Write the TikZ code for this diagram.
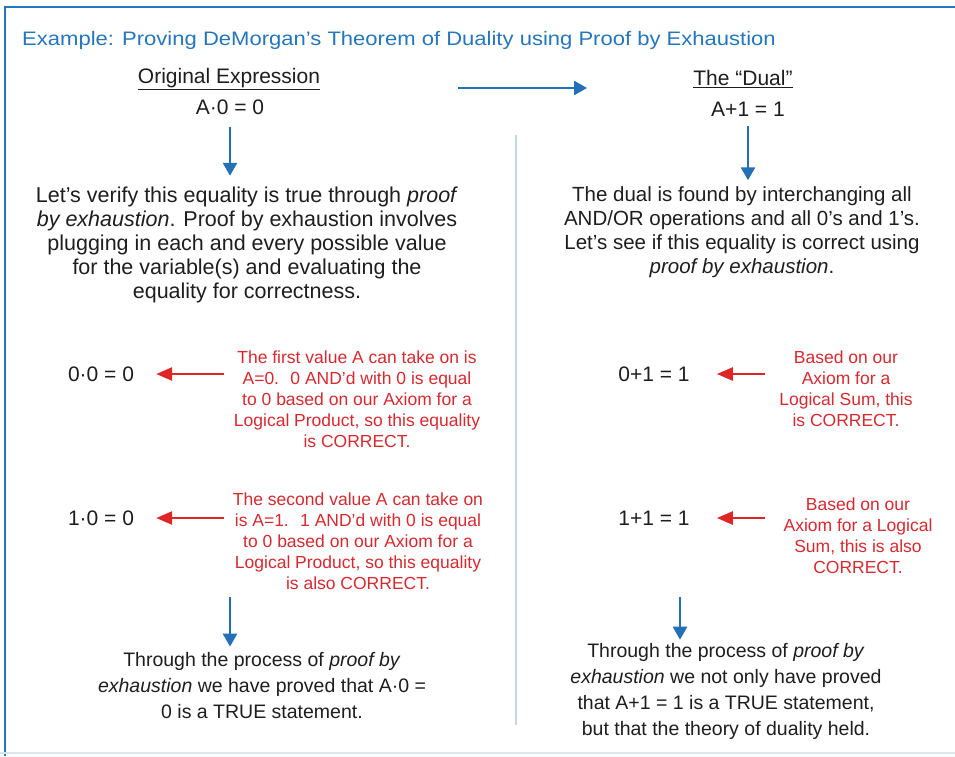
\documentclass[tikz,border=0pt]{standalone}
\usepackage{fontspec}
\setmainfont{Liberation Sans}
\usetikzlibrary{arrows.meta}
\definecolor{tblue}{RGB}{38,118,188}
\definecolor{ablue}{RGB}{36,112,182}
\definecolor{ared}{RGB}{222,38,38}
\definecolor{tred}{RGB}{214,42,48}
\definecolor{divc}{RGB}{200,216,226}
\definecolor{botc}{RGB}{214,230,234}
\definecolor{txt}{RGB}{30,30,30}
\tikzset{
  body/.style={font=\fontsize{21.5}{24}\selectfont, text=txt, align=center, inner sep=0pt},
  bodyr/.style={font=\fontsize{20.5}{24}\selectfont, text=txt, align=center, inner sep=0pt},
  bodyb/.style={font=\fontsize{19.5}{26}\selectfont, text=txt, align=center, inner sep=0pt},
  redtxt/.style={font=\fontsize{17.5}{21}\selectfont, text=tred, align=center, inner sep=0pt},
  eqn/.style={font=\fontsize{21}{24}\selectfont, text=txt, inner sep=0pt},
  barrow/.style={draw=ablue, line width=2.6pt, -{Triangle[length=13pt,width=14pt]}},
  rarrow/.style={draw=ared, line width=2.4pt, -{Triangle[length=16pt,width=13pt]}},
}
\begin{document}
\begin{tikzpicture}[x=1pt,y=-1pt]
\useasboundingbox (0,0) rectangle (955,756);
\fill[white] (0,0) rectangle (955,756);
% frame
\draw[tblue, line width=2.2pt] (5,756) -- (5,7) -- (955,7);
\draw[botc, line width=1.5pt] (0,753) -- (955,753);
% divider
\draw[divc, line width=1.6pt] (516,135) -- (516,725);

% title
\node[anchor=west, text=tblue, font=\fontsize{19.5}{24}\selectfont, inner sep=0pt] (title) at (22,40) {\scalebox{1.13}[1]{Example: Proving DeMorgan’s Theorem of Duality using Proof by Exhaustion}};

% headers
\node[eqn] (orig) at (229,79) {\underline{Original Expression}};
\node[eqn] (a0) at (230,107) {A·0 = 0};
\node[eqn] (dual) at (743,79) {\underline{The “Dual”}};
\node[eqn] (a1) at (748,109) {A+1 = 1};
\coordinate (hs) at (458,88);
\coordinate (he) at (587,88);
\draw[barrow] (hs) -- (he);

% paragraphs
\node[body] (lp) at (247,245) {Let’s verify this equality is true through \textit{proof}\\
\textit{by exhaustion}. Proof by exhaustion involves\\
plugging in each and every possible value\\
for the variable(s) and evaluating the\\
equality for correctness.};
\node[bodyr] (rp) at (742,232) {The dual is found by interchanging all\\
AND/OR operations and all 0’s and 1’s.\\
Let’s see if this equality is correct using\\
\textit{proof by exhaustion}.};
\draw[barrow] ([yshift=-12pt]a0.south) -- ([yshift=11pt]lp.north -| a0.south);
\draw[barrow] ([yshift=-10pt]a1.south) -- ([yshift=6pt]rp.north -| a1.south);

% left cases
\node[eqn] (e00) at (101,374) {0·0 = 0};
\node[redtxt] (r1) at (357,399) {The first value A can take on is\\
A=0.~ 0 AND’d with 0 is equal\\
to 0 based on our Axiom for a\\
Logical Product, so this equality\\
is CORRECT.};
\coordinate (r1s) at (224,374);
\draw[rarrow] (r1s) -- ([xshift=22pt]e00.east);

\node[eqn] (e10) at (101,518) {1·0 = 0};
\node[redtxt] (r2) at (358,541) {The second value A can take on\\
is A=1.~ 1 AND’d with 0 is equal\\
to 0 based on our Axiom for a\\
Logical Product, so this equality\\
is also CORRECT.};
\coordinate (r2s) at (224,518);
\draw[rarrow] (r2s) -- ([xshift=22pt]e10.east);

% right cases
\node[eqn] (e01) at (654,374) {0+1 = 1};
\node[redtxt] (r3) at (846,389) {Based on our\\
Axiom for a\\
Logical Sum, this\\
is CORRECT.};
\coordinate (r3s) at (765,374);
\draw[rarrow] (r3s) -- ([xshift=27pt]e01.east);

\node[eqn] (e11) at (654,518) {1+1 = 1};
\node[redtxt] (r4) at (858,536) {Based on our\\
Axiom for a Logical\\
Sum, this is also\\
CORRECT.};
\coordinate (r4s) at (765,518);
\draw[rarrow] (r4s) -- ([xshift=27pt]e11.east);

% conclusions
\node[bodyb] (lc) at (262,686) {Through the process of \textit{proof by}\\
\textit{exhaustion} we have proved that A·0 =\\
0 is a TRUE statement.};
\node[bodyb] (rc) at (726,691) {Through the process of \textit{proof by}\\
\textit{exhaustion} we not only have proved\\
that A+1 = 1 is a TRUE statement,\\
but that the theory of duality held.};
\coordinate (ld) at (230,597);
\coordinate (rd) at (680,597);
\draw[barrow] (ld) -- ([yshift=6pt]lc.north -| ld);
\draw[barrow] (rd) -- ([yshift=3pt]rc.north -| rd);
\end{tikzpicture}
\end{document}
